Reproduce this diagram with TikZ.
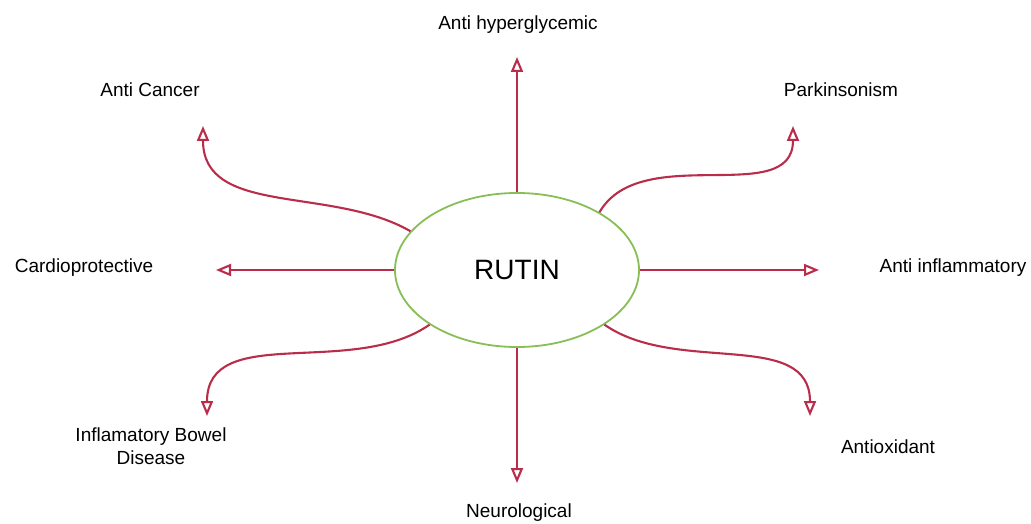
\documentclass[tikz,border=0pt]{standalone}
\usepackage{fontspec}
\setmainfont{Liberation Sans}
\usetikzlibrary{arrows.meta,shapes.geometric}
\definecolor{rutinred}{RGB}{185,45,75}
\definecolor{rutingreen}{RGB}{135,190,85}
\tikzstyle{effect}=[inner sep=0pt, font=\fontsize{19}{23}\selectfont, align=center]
\tikzstyle{core}=[ellipse, draw=rutingreen, line width=1.8pt, minimum width=244pt, minimum height=154pt, inner sep=0pt, font=\fontsize{28}{30}\selectfont]
\newcommand{\effect}{\node[effect]}

\begin{document}
\begin{tikzpicture}[x=1pt, y=1pt
  ,every edge/.style={draw=rutinred, line width=2.1pt, -{Triangle[open,length=15pt,width=12pt]}}
]
\useasboundingbox (0,0) rectangle (1031,523);
\node[core] (rutin) at (517,253) {RUTIN};
\effect (hyper) at (518,498) {Anti hyperglycemic};
\effect (cancer) at (150,433) {Anti Cancer};
\effect (parkin) at (841,433) {Parkinsonism};
\effect (cardio) at (84,255) {Cardioprotective};
\effect (inflam) at (953,255) {Anti inflammatory};
\effect (bowel) at (151,77) {Inflamatory Bowel\\Disease};
\effect (antiox) at (888,76) {Antioxidant};
\effect (neuro) at (519,10) {Neurological};
% arrow tips
\coordinate (tu) at (517,466);
\coordinate (td) at (517,40);
\coordinate (tl) at (216,253);
\coordinate (tr) at (819,253);
\coordinate (tul) at (203,397);
\coordinate (tur) at (793,397);
\coordinate (tll) at (207,107);
\coordinate (tlr) at (810,107);
\path
(rutin.north) edge (tu)
(rutin.south) edge (td)
(rutin.west) edge (tl)
(rutin.east) edge (tr)
(rutin.160) edge[out=150, in=-90] (tul)
(rutin.35) edge[out=60, in=-90] (tur)
(rutin.212) edge[out=215, in=90] (tll)
(rutin.-32) edge[out=-35, in=90] (tlr)
;
\end{tikzpicture}
\end{document}
